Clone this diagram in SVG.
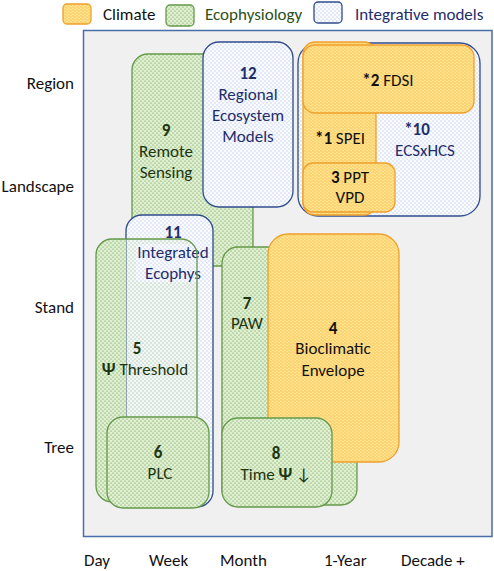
<svg xmlns="http://www.w3.org/2000/svg" width="494" height="571" viewBox="0 0 494 571">
<defs>
<pattern id="pOr" width="4" height="3" patternUnits="userSpaceOnUse">
<rect width="4" height="3" fill="#ffe38f"/>
<path d="M0 1.5 L1 0.5 L2 1.5 L3 2.5 L4 1.5" stroke="#f4b43a" stroke-width="0.8" fill="none"/>
</pattern>
<pattern id="pGr" width="4" height="4" patternUnits="userSpaceOnUse">
<rect width="4" height="4" fill="#e2efd7"/>
<circle cx="1" cy="1" r="0.85" fill="#9cc57e"/>
<circle cx="3" cy="3" r="0.85" fill="#9cc57e"/>
</pattern>
<pattern id="pBl" width="4" height="4" patternUnits="userSpaceOnUse">
<rect width="4" height="4" fill="#fbfcff"/>
<circle cx="1" cy="1" r="0.65" fill="#b6c6e6"/>
<circle cx="3" cy="3" r="0.65" fill="#b6c6e6"/>
</pattern>
<clipPath id="c5"><rect x="90" y="230" width="36" height="280"/></clipPath>
<mask id="m5" maskUnits="userSpaceOnUse" x="0" y="0" width="494" height="571">
<rect width="494" height="571" fill="#fff"/>
<rect x="136" y="244" width="62" height="38" rx="4" fill="#000"/>
</mask>
<style>
text{font-family:Carlito,Lato,"Liberation Sans",sans-serif;font-size:17px}
.or{fill:url(#pOr);stroke:#efa02c;stroke-width:1.3}
.gr{fill:url(#pGr);stroke:#64994a;stroke-width:1.3}
.bl{fill:url(#pBl);stroke:#2f4c8c;stroke-width:1.3}
.tg{fill:#1d3510;text-anchor:middle}
.tb{fill:#1f2d6b;text-anchor:middle}
.to{fill:#111;text-anchor:middle}
.ax{fill:#111}
.b{font-weight:bold}
</style>
</defs>
<g id="legend">
<rect class="or" x="63" y="4" width="28" height="20" rx="4"/>
<text class="ax" x="103" y="20">Climate</text>
<rect class="gr" x="166" y="5" width="28" height="21" rx="4"/>
<text x="205" y="20" fill="#2e4f1a">Ecophysiology</text>
<rect class="bl" x="314" y="2" width="28" height="21" rx="4"/>
<text x="355" y="20" fill="#1f2d6b">Integrative models</text>
</g>
<rect id="frame" x="83.5" y="30.5" width="408.5" height="506" fill="#f0f0f0" stroke="#4a6da8" stroke-width="1.5"/>
<g id="axes">
<text class="ax" x="74" y="89" text-anchor="end">Region</text>
<text class="ax" x="74" y="192" text-anchor="end">Landscape</text>
<text class="ax" x="74" y="313" text-anchor="end">Stand</text>
<text class="ax" x="74" y="453" text-anchor="end">Tree</text>
<text class="ax" x="84" y="566">Day</text>
<text class="ax" x="149" y="566">Week</text>
<text class="ax" x="220" y="566">Month</text>
<text class="ax" x="324" y="566">1-Year</text>
<text class="ax" x="401" y="566">Decade +</text>
</g>
<g id="connectors"></g>
<g id="n9">
<rect class="gr" x="132" y="54" width="121" height="212" rx="16"/>
<text class="tg" x="166" y="136"><tspan class="b">9</tspan><tspan x="166" dy="21">Remote</tspan><tspan x="166" dy="21">Sensing</tspan></text>
</g>
<g id="n12">
<rect class="bl" x="203" y="42" width="90" height="165" rx="16"/>
<text class="tb" x="248" y="79"><tspan class="b">12</tspan><tspan x="248" dy="21">Regional</tspan><tspan x="248" dy="21">Ecosystem</tspan><tspan x="248" dy="21">Models</tspan></text>
</g>
<g id="n10">
<rect class="bl" x="298" y="43" width="182" height="173" rx="20"/>
<text class="tb" x="417" y="135"><tspan class="b">*10</tspan><tspan x="425" dy="21">ECSxHCS</tspan></text>
</g>
<g id="n1">
<rect class="or" x="303" y="42" width="73" height="173" rx="12"/>
<text class="to" x="340" y="144"><tspan class="b">*1</tspan> SPEI</text>
</g>
<g id="n2">
<rect class="or" x="303" y="45" width="171" height="68" rx="12"/>
<text class="to" x="388" y="86"><tspan class="b">*2</tspan> FDSI</text>
</g>
<g id="n3">
<rect class="or" x="303" y="163" width="92" height="49" rx="10"/>
<text class="to" x="350" y="183"><tspan class="b">3</tspan> PPT<tspan x="350" dy="20">VPD</tspan></text>
</g>
<g id="n11">
<rect class="bl" x="126" y="215" width="87" height="292" rx="16"/>
<text class="tb" x="173" y="238"><tspan class="b">11</tspan><tspan x="173" dy="20">Integrated</tspan><tspan x="173" dy="21">Ecophys</tspan></text>
</g>
<g id="n5">
<rect x="96" y="239" width="101" height="263" rx="16" fill="url(#pGr)" clip-path="url(#c5)"/>
<rect x="96" y="239" width="101" height="263" rx="16" fill="url(#pGr)" fill-opacity="0.32" mask="url(#m5)"/>
<rect x="96" y="239" width="101" height="263" rx="16" fill="none" stroke="#64994a" stroke-width="1.3"/>
<text class="tg" x="137" y="354"><tspan class="b">5</tspan><tspan x="145" dy="21"><tspan class="b">Ψ</tspan> Threshold</tspan></text>
</g>
<g id="n6">
<rect class="gr" x="107" y="417" width="102" height="91" rx="16"/>
<text class="tg" x="158" y="458"><tspan class="b">6</tspan><tspan x="160" dy="21">PLC</tspan></text>
</g>
<g id="n7">
<rect class="gr" x="222" y="247" width="135" height="258" rx="16"/>
<text class="tg" x="247" y="309"><tspan class="b">7</tspan><tspan x="247" dy="20">PAW</tspan></text>
</g>
<g id="n4">
<rect class="or" x="268" y="234" width="131" height="228" rx="20"/>
<text class="to" x="333" y="334"><tspan class="b">4</tspan><tspan x="333" dy="20">Bioclimatic</tspan><tspan x="333" dy="22">Envelope</tspan></text>
</g>
<g id="n8">
<rect class="gr" x="222" y="418" width="110" height="89" rx="16"/>
<text class="tg" x="276" y="459"><tspan class="b">8</tspan><tspan x="276" dy="21">Time <tspan class="b">Ψ</tspan> ↓</tspan></text>
</g>
</svg>
